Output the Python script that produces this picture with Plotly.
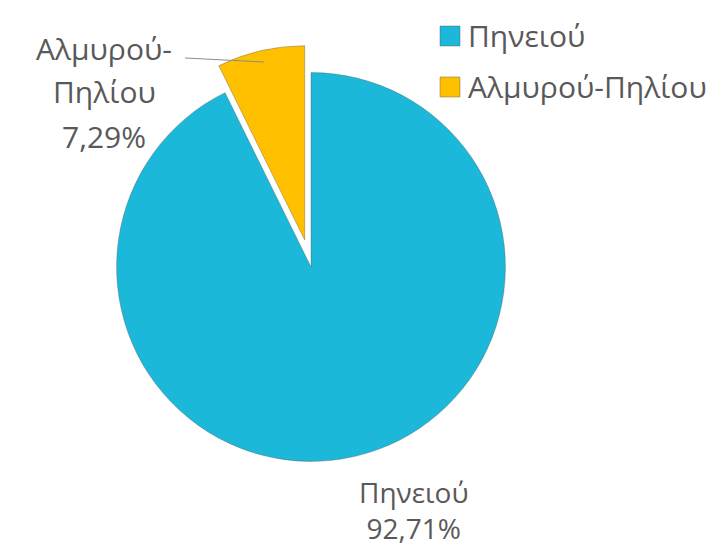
import plotly.graph_objects as go

# Data
labels = ["Πηνειού", "Αλμυρού-Πηλίου"]
values = [92.71, 7.29]
pct_text = ["92,71%", "7,29%"]
colors = ["#1CB8DA", "#FFC000"]
pulls = [0, 0.142]

W, H = 718, 549
FONT = "Open Sans"
TXT = "#595959"
FS = 30

def px(x):
    return x / W

def py(y):
    return 1 - y / H

cx, cy, half = 303, 259, 222

fig = go.Figure(go.Pie(
    labels=labels,
    values=values,
    marker=dict(colors=colors, line=dict(color="rgba(80,80,80,0.45)", width=0.8)),
    pull=pulls,
    sort=False,
    direction="clockwise",
    rotation=0,
    textinfo="none",
    hoverinfo="label+percent",
    showlegend=False,
    domain=dict(x=[px(cx - half), px(cx + half)], y=[py(cy + half), py(cy - half)]),
))

annotations = []
shapes = []

# Custom legend
leg_rows = [28, 79]
for lab, col, yy in zip(labels, colors, leg_rows):
    shapes.append(dict(type="rect", xref="paper", yref="paper",
                       x0=px(432), x1=px(452), y0=py(yy + 10), y1=py(yy - 10),
                       fillcolor=col, line=dict(color="rgba(80,80,80,0.5)", width=0.8)))
    annotations.append(dict(x=px(458), y=py(yy), xref="paper", yref="paper",
                            text=lab, showarrow=False, xanchor="left", yanchor="middle",
                            font=dict(family=FONT, size=FS, color=TXT)))

# Data labels: Αλμυρού-Πηλίου (split over lines)
small_lines = ["Αλμυρού-", "Πηλίου", pct_text[1]]
for t, yy in zip(small_lines, [40, 84, 128]):
    annotations.append(dict(x=px(96), y=py(yy), xref="paper", yref="paper",
                            text=t, showarrow=False, xanchor="center", yanchor="middle",
                            font=dict(family=FONT, size=FS, color=TXT)))

# Data label: Πηνειού
annotations.append(dict(x=px(406), y=py(541), xref="paper", yref="paper",
                        text=labels[0] + "<br>" + pct_text[0], showarrow=False,
                        xanchor="center", yanchor="bottom", align="center",
                        font=dict(family=FONT, size=28, color=TXT)))

# Leader line
shapes.append(dict(type="line", xref="paper", yref="paper",
                   x0=px(177), y0=py(50), x1=px(256), y1=py(54),
                   line=dict(color="#8C8C8C", width=1)))

fig.update_layout(
    width=W, height=H,
    margin=dict(l=0, r=0, t=0, b=0),
    paper_bgcolor="white",
    plot_bgcolor="white",
    annotations=annotations,
    shapes=shapes,
)

fig.write_html("out.html")
